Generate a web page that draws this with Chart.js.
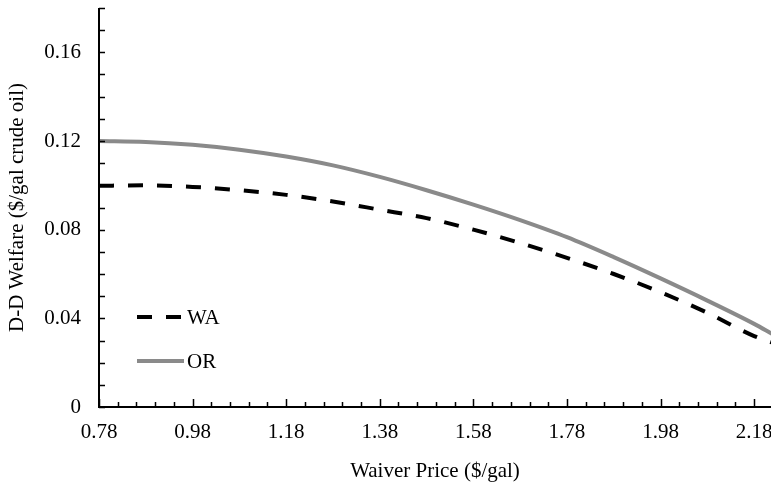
<!DOCTYPE html>
<html>
<head>
<meta charset="utf-8">
<script src="https://cdn.jsdelivr.net/npm/chart.js@4.4.1/dist/chart.umd.min.js"></script>
<style>
  body { margin: 0; background: #fff; }
  canvas { display: block; }
</style>
</head>
<body>
<canvas id="welfareChart" width="771" height="489"></canvas>
<script>
// D-D welfare vs waiver price
const waiverPrice = [0.78, 0.88, 0.98, 1.08, 1.18, 1.28, 1.38, 1.48, 1.58, 1.68, 1.78, 1.88, 1.98, 2.08, 2.18, 2.22];
const waWelfare = [0.0998, 0.1000, 0.0993, 0.0978, 0.0957, 0.0927, 0.0890, 0.0852, 0.0800, 0.0740, 0.0673, 0.0600, 0.0518, 0.0425, 0.0320, 0.0290];
const orWelfare = [0.1200, 0.1196, 0.1183, 0.1161, 0.1130, 0.1090, 0.1038, 0.0978, 0.0913, 0.0843, 0.0766, 0.0676, 0.0580, 0.0480, 0.0375, 0.0328];
const xTickValues = [0.78, 0.98, 1.18, 1.38, 1.58, 1.78, 1.98, 2.18];
const yTickValues = [0, 0.04, 0.08, 0.12, 0.16];
const seriesLabels = ['WA', 'OR'];

const serif = "'Liberation Serif', 'Times New Roman', serif";
Chart.defaults.font.family = serif;
Chart.defaults.color = '#000';

function pairs(ys) {
  return waiverPrice.map((x, i) => ({ x: x, y: ys[i] }));
}

function fmt(v) {
  return v === 0 ? '0' : v.toFixed(2);
}

// axis lines, inside tick marks and the legend
const axisDecor = {
  id: 'axisDecor',
  afterDraw(chart) {
    const ctx = chart.ctx;
    const xs = chart.scales.x;
    const ys = chart.scales.y;
    const a = chart.chartArea;
    ctx.save();
    ctx.strokeStyle = '#000';
    ctx.lineWidth = 2;
    ctx.beginPath();
    ctx.moveTo(a.left, a.top);
    ctx.lineTo(a.left, a.bottom);
    ctx.lineTo(a.right, a.bottom);
    ctx.stroke();

    ctx.lineWidth = 1.5;
    ctx.beginPath();
    for (let i = 0; i <= 18; i++) {
      const py = Math.round(ys.getPixelForValue(i / 100)) + 0.5;
      ctx.moveTo(a.left, py);
      ctx.lineTo(a.left + 6, py);
    }
    for (let i = 0; i <= 36; i++) {
      const v = 0.78 + i * 0.04;
      if (v > xs.max) break;
      const px = Math.round(xs.getPixelForValue(v)) + 0.5;
      ctx.moveTo(px, a.bottom);
      ctx.lineTo(px, a.bottom - (i % 5 === 0 ? 8 : 5));
    }
    ctx.stroke();

    // legend
    const rows = [a.bottom - 90, a.bottom - 46];
    chart.data.datasets.forEach((ds, i) => {
      const y = rows[i];
      ctx.beginPath();
      ctx.strokeStyle = ds.borderColor;
      ctx.lineWidth = ds.borderWidth;
      ctx.setLineDash(ds.borderDash || []);
      ctx.moveTo(a.left + 38, y);
      ctx.lineTo(a.left + 85, y);
      ctx.stroke();
      ctx.setLineDash([]);
      ctx.fillStyle = '#000';
      ctx.font = '21px ' + serif;
      ctx.textBaseline = 'middle';
      ctx.fillText(ds.label, a.left + 88, y + 1);
    });
    ctx.restore();
  }
};

new Chart(document.getElementById('welfareChart'), {
  type: 'line',
  data: {
    datasets: [
      {
        label: seriesLabels[0],
        data: pairs(waWelfare),
        borderColor: '#000',
        borderWidth: 4,
        borderDash: [15, 14],
        pointRadius: 0,
        cubicInterpolationMode: 'monotone'
      },
      {
        label: seriesLabels[1],
        data: pairs(orWelfare),
        borderColor: '#8a8a8a',
        borderWidth: 4,
        pointRadius: 0,
        cubicInterpolationMode: 'monotone'
      }
    ]
  },
  options: {
    responsive: false,
    animation: false,
    layout: { padding: { top: 8, right: 0, left: 0, bottom: 0 } },
    plugins: {
      legend: { display: false },
      tooltip: { enabled: false }
    },
    scales: {
      x: {
        type: 'linear',
        min: 0.78,
        max: 2.216,
        afterBuildTicks: (s) => { s.ticks = xTickValues.map(v => ({ value: v })); },
        afterFit: (s) => { s.height = 82; s.paddingLeft = 0; s.paddingRight = 0; },
        grid: { display: false, drawTicks: false },
        border: { display: false },
        ticks: {
          padding: 13,
          maxRotation: 0,
          autoSkip: false,
          font: { size: 21 },
          callback: (v) => fmt(v)
        },
        title: {
          display: true,
          text: 'Waiver Price ($/gal)',
          font: { size: 21 },
          padding: { top: 0, bottom: 5 }
        }
      },
      y: {
        min: 0,
        max: 0.18,
        afterBuildTicks: (s) => { s.ticks = yTickValues.map(v => ({ value: v })); },
        afterFit: (s) => { s.width = 99; s.paddingTop = 0; s.paddingBottom = 0; },
        grid: { display: false, drawTicks: false },
        border: { display: false },
        ticks: {
          padding: 18,
          font: { size: 21 },
          callback: (v) => fmt(v)
        },
        title: {
          display: true,
          text: 'D-D Welfare ($/gal crude oil)',
          font: { size: 21 },
          padding: { top: 5, bottom: 0 }
        }
      }
    }
  },
  plugins: [axisDecor]
});
</script>
</body>
</html>
